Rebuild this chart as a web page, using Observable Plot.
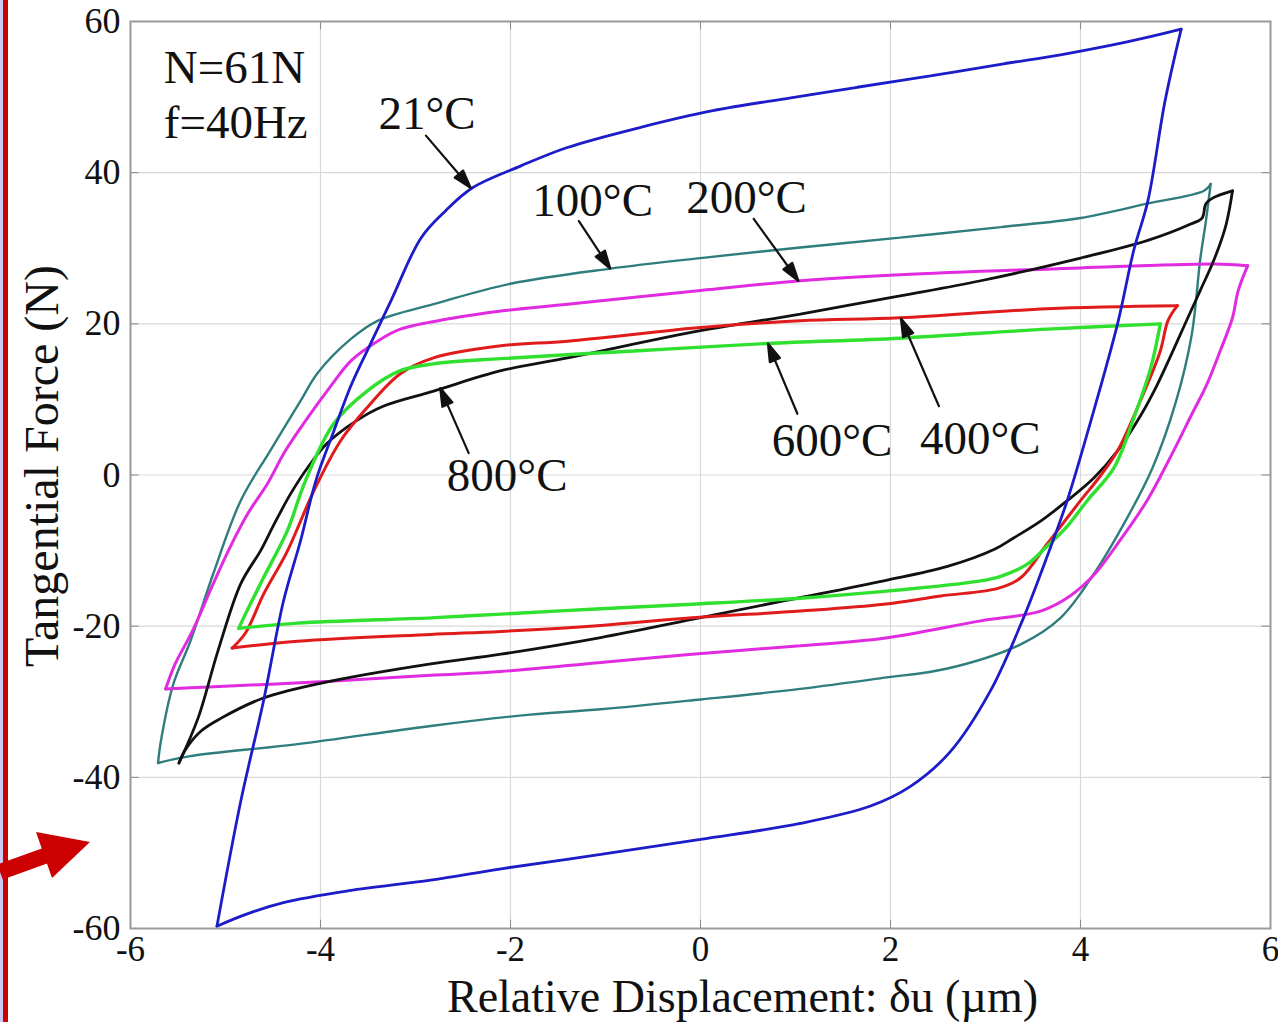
<!DOCTYPE html>
<html>
<head>
<meta charset="utf-8">
<script src="https://cdn.jsdelivr.net/npm/d3@7"></script>
<script src="https://cdn.jsdelivr.net/npm/@observablehq/plot@0.6"></script>
<style>
  html, body { margin: 0; padding: 0; background: #fff; }
  #wrap { position: relative; width: 1278px; height: 1022px; overflow: hidden; }
  #deco { position: absolute; left: 0; top: 0; pointer-events: none; }
</style>
</head>
<body>
<div id="wrap"></div>
<script>
// ---- axis ticks ----
const xTicks = [-6, -4, -2, 0, 2, 4, 6];
const yTicks = [-60, -40, -20, 0, 20, 40, 60];

// ---- hysteresis loops [displacement µm, tangential force N] ----
const loop21 = [
  [-5.09,-59.7],[-4.84,-43.2],[-4.6,-29.9],[-4.39,-16.7],[-4.21,-8.7],[-4.05,-0.8],[-3.86,5.8],[-3.68,11.8],
  [-3.51,16.4],[-3.26,23],[-2.94,31.4],[-2.68,35],[-2.4,38],[-1.89,40.9],[-1.41,43.3],[-0.63,46],[0.13,48.2],
  [0.95,49.9],[1.65,51.3],[2.42,52.8],[3.19,54.4],[3.79,55.6],[4.3,56.8],[4.7,57.9],[5.06,59.0],
  [4.89,49.5],[4.71,36.3],[4.56,29.7],[4.39,20],[4.11,7.2],[3.86,-3.4],[3.63,-11.4],[3.4,-18.9],[3.05,-28.6],
  [2.63,-36.6],[2.21,-41.2],[1.79,-43.8],[1.05,-46.1],[0,-48.2],[-1.05,-50.2],[-2.1,-52.1],[-2.84,-53.6],
  [-3.7,-55.0],[-4.4,-56.6],[-4.8,-58.2],[-5.09,-59.7]
];
const loop100 = [
  [-5.71,-38.1],[-5.68,-35.2],[-5.55,-27.7],[-5.37,-22],[-5.13,-13.1],[-4.84,-3.4],[-4.53,3.2],[-4.21,9.8],
  [-4.03,13.5],[-3.68,18],[-3.4,20.4],[-2.81,22.6],[-2,25.3],[-0.95,27.3],[0,28.7],[1.05,30.1],[2.1,31.4],
  [3.16,32.8],[4,34],[4.7,35.9],[5.3,37.6],[5.37,38.5],
  [5.32,33.6],[5.26,28.5],[5.17,18.5],[5.0,9.5],[4.76,1.0],[4.49,-5.7],[4.14,-13.1],[3.79,-18.9],[3.37,-22.4],
  [2.6,-25.6],[1.89,-26.9],[1.05,-28.3],[0,-29.7],[-1.05,-31],[-1.79,-31.7],[-2.84,-33.2],[-4.24,-35.6],
  [-5.37,-37.2],[-5.71,-38.1]
];
const loop200 = [
  [-5.63,-28.3],[-5.53,-25],[-5.35,-20.7],[-5.13,-14.4],[-4.95,-9.5],[-4.76,-5],[-4.56,-1.2],[-4.37,3.2],
  [-4.14,7.5],[-3.89,11.8],[-3.68,15.1],[-3.4,17.7],[-3.16,19.3],[-2.63,20.7],[-2.1,21.7],[-1.4,22.6],[0,24.4],
  [1.05,25.7],[2.1,26.5],[4,27.4],[5.4,27.9],[5.76,27.7],
  [5.66,24.4],[5.6,20.8],[5.47,16.4],[5.33,12],[5.17,8.0],[4.98,3.2],[4.7,-3.4],[4.39,-9.1],[4.15,-13.1],
  [3.89,-16],[3.58,-18],[2.95,-19.3],[1.93,-21.6],[1.05,-22.6],[-0.09,-23.7],[-1.05,-24.8],[-2.1,-26],
  [-2.84,-26.5],[-3.9,-27.3],[-5.29,-28.1],[-5.63,-28.3]
];
const loop400 = [
  [-4.93,-22.9],[-4.79,-20.9],[-4.6,-15.8],[-4.35,-10.1],[-4.07,-2.1],[-3.79,4.5],[-3.51,8.9],[-3.16,13.4],
  [-2.81,15.5],[-2.1,17.1],[-1.4,17.7],[0,19.5],[1.05,20.4],[2.1,20.8],[3.65,22],[5.02,22.4],
  [4.92,20.4],[4.84,16.4],[4.63,9.8],[4.39,3.2],[4.21,-0.1],[4,-3.4],[3.65,-9.1],[3.37,-13.6],[3.13,-15],
  [2.53,-16],[1.93,-17.1],[1.05,-18],[-0.09,-18.9],[-1.05,-19.9],[-2.1,-20.7],[-2.84,-21.1],[-4.24,-22],
  [-4.93,-22.9]
];
const loop600 = [
  [-4.86,-20.3],[-4.81,-18.9],[-4.6,-13.6],[-4.35,-7.4],[-4.16,-0.8],[-3.86,6.8],[-3.51,11.1],[-3.16,13.8],
  [-2.81,14.7],[-2.1,15.4],[-0.7,16.4],[0.7,17.4],[2.1,18.1],[3.65,19.3],[4.84,20],
  [4.74,14.2],[4.56,7.5],[4.35,0.9],[4.07,-3.4],[3.86,-6.8],[3.65,-9.4],[3.44,-11.8],[3.16,-13.4],[2.95,-14],
  [1.93,-15.4],[1.05,-16.3],[-0.09,-17.1],[-1.05,-17.7],[-2.1,-18.4],[-2.84,-18.9],[-4.24,-19.6],[-4.86,-20.3]
];
const loop800 = [
  [-5.49,-38.1],[-5.29,-32.2],[-5.08,-23.3],[-4.84,-14.4],[-4.63,-10],[-4.5,-6.8],[-4.32,-2.6],[-4.14,0.9],
  [-3.93,4.2],[-3.62,7.2],[-3.34,9.1],[-2.81,11.1],[-2.1,13.8],[-1.4,15.5],[0,19.1],[1.05,21.3],[2.1,23.7],
  [2.95,25.7],[4,28.7],[4.7,31],[5.16,33.2],[5.28,34],[5.32,35.9],[5.4,36.7],[5.6,37.6],
  [5.53,33],[5.4,28.3],[5.26,24.4],[5.13,20.8],[4.81,12],[4.63,7.8],[4.39,3.2],[4.14,-0.4],[3.86,-3.4],
  [3.58,-6.1],[3.3,-8.3],[3.1,-9.8],[2.6,-12.1],[1.93,-14],[0.9,-16.6],[-0.09,-19.1],[-1.05,-21.5],
  [-2.1,-23.7],[-2.84,-25],[-3.9,-27.3],[-4.6,-29.5],[-5.05,-32.2],[-5.26,-33.9],[-5.42,-36.3],[-5.49,-38.1]
];

// ---- annotations ----
const noteLabels = ["N=61N", "f=40Hz", "21°C", "100°C", "200°C", "800°C", "600°C", "400°C"];
const noteX = [-5.65, -5.65, -3.39, -1.77, -0.15, -2.67, 0.75, 2.31];
const noteY = [51.8, 44.6, 45.8, 34.3, 34.7, -2.1, 2.5, 2.8];
// arrows: start -> tip
const arrowX1 = [-2.89, -1.28, 0.56, -2.44, 1.02, 2.51];
const arrowY1 = [44.9, 33.6, 33.9, 2.9, 8.1, 9.1];
const arrowX2 = [-2.42, -0.95, 1.03, -2.74, 0.71, 2.11];
const arrowY2 = [38.0, 27.3, 25.7, 11.5, 17.4, 20.7];

const xLabel = "Relative Displacement: δu (µm)";
const yLabel = "Tangential Force (N)";

// ---- layout ----
const W = 1278, H = 1022;
const mL = 130, mR = 8, mT = 21, mB = 94;
const kx = (W - mL - mR) / 12, ky = (H - mT - mB) / 120;
const font = "'Liberation Serif', 'Times New Roman', serif";

const series = [
  {data: loop100, color: "#2f7d7d", w: 2.4},
  {data: loop200, color: "#e02be0", w: 3},
  {data: loop800, color: "#111111", w: 2.8},
  {data: loop400, color: "#e01b1b", w: 3},
  {data: loop600, color: "#2fe02f", w: 3.4},
  {data: loop21,  color: "#1c1cc8", w: 2.8}
];
// split every loop at its right-hand turning point so the corners stay sharp
function branches(loop) {
  const k = d3.maxIndex(loop, d => d[0]);
  return [loop.slice(0, k + 1), loop.slice(k)];
}

const notes = noteLabels.map((t, i) => ({t, x: noteX[i], y: noteY[i]}));
const arrows = arrowX1.map((x1, i) => {
  const dx = (arrowX2[i] - x1) * kx;
  const dy = -(arrowY2[i] - arrowY1[i]) * ky;
  return {x: arrowX2[i], y: arrowY2[i], len: Math.hypot(dx, dy), rot: Math.atan2(dx, -dy) * 180 / Math.PI};
});
const arrowShape = {
  draw(context, l) {
    context.moveTo(0, 0);
    context.lineTo(0, -l + 12);
    context.moveTo(0, -l);
    context.lineTo(-5.5, -l + 18);
    context.lineTo(5.5, -l + 18);
    context.closePath();
  }
};

const tx = 0.09, ty = 1.1; // inward tick length in data units
const chart = Plot.plot({
  width: W, height: H,
  marginLeft: mL, marginRight: mR, marginTop: mT, marginBottom: mB,
  x: {domain: [-6, 6]},
  y: {domain: [-60, 60]},
  length: {type: "identity"},
  style: {fontFamily: font, background: "white", color: "#111"},
  marks: [
    Plot.gridX(xTicks, {stroke: "#d9d9d9", strokeOpacity: 1, strokeWidth: 1.2}),
    Plot.gridY(yTicks, {stroke: "#d9d9d9", strokeOpacity: 1, strokeWidth: 1.2}),
    Plot.ruleY(yTicks, {x1: -6, x2: -6 + tx, stroke: "#888"}),
    Plot.ruleY(yTicks, {x1: 6 - tx, x2: 6, stroke: "#888"}),
    Plot.ruleX(xTicks, {y1: -60, y2: -60 + ty, stroke: "#888"}),
    Plot.ruleX(xTicks, {y1: 60 - ty, y2: 60, stroke: "#888"}),
    Plot.axisX(xTicks, {tickSize: 0, tickPadding: 8, fontSize: 35, tickFormat: d => String(d), label: null, fill: "#111"}),
    Plot.axisY(yTicks, {tickSize: 0, tickPadding: 10, fontSize: 36, tickFormat: d => String(d), label: null, fill: "#111"}),
    ...series.flatMap(s => branches(s.data).map(b =>
      Plot.line(b, {x: d => d[0], y: d => d[1], stroke: s.color, strokeWidth: s.w, curve: "catmull-rom", strokeLinejoin: "miter"}))),
    Plot.text(notes, {x: "x", y: "y", text: "t", textAnchor: "start", lineAnchor: "bottom", fontSize: 47, fill: "#111"}),
    Plot.vector(arrows, {x: "x", y: "y", length: "len", rotate: "rot", anchor: "end", shape: arrowShape, stroke: "#111", fill: "#111", strokeWidth: 2.2}),
    Plot.text([xLabel], {frameAnchor: "bottom", textAnchor: "middle", lineAnchor: "bottom", dx: 42, dy: 83, fontSize: 46, fill: "#111"}),
    Plot.text([yLabel], {frameAnchor: "left", textAnchor: "middle", lineAnchor: "middle", dx: -88, dy: -9, rotate: -90, fontSize: 48, fill: "#111"}),
    Plot.frame({stroke: "#9a9a9a", strokeWidth: 2})
  ]
});
const wrap = document.getElementById("wrap");
wrap.appendChild(chart);

// decorative red marker from the source figure (outside the plot frame)
const deco = document.createElementNS("http://www.w3.org/2000/svg", "svg");
deco.setAttribute("id", "deco");
deco.setAttribute("width", W);
deco.setAttribute("height", H);
deco.innerHTML = `
  <rect x="0" y="0" width="3" height="${H}" fill="#c9c9f2"/>
  <rect x="3" y="0" width="5" height="${H}" fill="#cc0000"/>
  <line x1="0" y1="872" x2="50" y2="854" stroke="#cc0000" stroke-width="16"/>
  <polygon points="36,832 90,842 52,878" fill="#cc0000"/>`;
wrap.appendChild(deco);
</script>
</body>
</html>
